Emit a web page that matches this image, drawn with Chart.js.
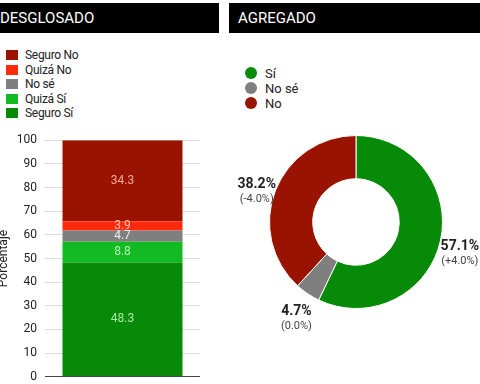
<!DOCTYPE html>
<html>
<head>
<meta charset="utf-8">
<script src="https://cdn.jsdelivr.net/npm/chart.js@4/dist/chart.umd.min.js"></script>
<style>
  body { margin: 0; width: 480px; height: 384px; background: #fff; position: relative; overflow: hidden; font-family: Roboto, sans-serif; }
  .head { position: absolute; top: 3px; height: 30px; background: #000; color: #fff; font-size: 15px; line-height: 30px; }
  #headL { left: 0; width: 219px; padding-left: 0; }
  #headR { left: 229px; width: 251px; }
  #headR span { margin-left: 9px; }
  .leg { position: absolute; font-size: 12px; color: #222; }
  .leg div { height: 14.5px; line-height: 14.5px; position: relative; padding-left: 19px; letter-spacing: -0.3px; }
  .leg i { position: absolute; left: 0; top: 2px; width: 12px; height: 10px; }
  #legR div { height: 15px; line-height: 15px; padding-left: 20px; font-size: 13px; letter-spacing: 0; }
  #legR i { width: 12px; height: 12px; top: 1px; border-radius: 50%; }
  canvas { position: absolute; }
</style>
</head>
<body>
<div class="head" id="headL">DESGLOSADO</div>
<div class="head" id="headR"><span>AGREGADO</span></div>
<div class="leg" id="legL" style="left:6px; top:48px;"></div>
<div class="leg" id="legR" style="left:245px; top:66px;"></div>
<canvas id="bar-chart" width="220" height="267" style="left:0; top:125px;"></canvas>
<canvas id="donut-chart" width="251" height="264" style="left:229px; top:120px;"></canvas>
<script>
// desglosado (bottom to top of the stack)
const barLabels = ["Seguro Sí", "Quizá Sí", "No sé", "Quizá No", "Seguro No"];
const barValues = [48.3, 8.8, 4.7, 3.9, 34.3];
const barColors = ["#078a07", "#12bb22", "#7f7f7f", "#ff2a0c", "#991300"];
const barLabelColors = ["#a8eaa8", "#b6f5b6", "#eeeeee", "#ffc4b8", "#f2aa9e"];
const yTickMin = 0, yTickMax = 100, yTickStep = 10;

// agregado
const donutLabels = ["Sí", "No sé", "No"];
const donutValues = [57.1, 4.7, 38.2];
const donutChanges = ["+4.0%", "0.0%", "-4.0%"];
const donutColors = ["#078a07", "#7f7f7f", "#991300"];

// legends
const legL = document.getElementById("legL");
for (let i = barLabels.length - 1; i >= 0; i--) {
    legL.innerHTML += '<div><i style="background:' + barColors[i] + '"></i>' + barLabels[i] + '</div>';
}
const legR = document.getElementById("legR");
donutLabels.forEach((l, i) => {
    legR.innerHTML += '<div><i style="background:' + donutColors[i] + '"></i>' + l + '</div>';
});

const barText = {
    id: "barText",
    afterDatasetsDraw(chart) {
        const ctx = chart.ctx;
        ctx.save();
        ctx.font = "12px Roboto";
        ctx.textAlign = "center";
        ctx.textBaseline = "middle";
        chart.data.datasets.forEach((ds, i) => {
            const el = chart.getDatasetMeta(i).data[0];
            const y = (el.y + el.base) / 2;
            ctx.fillStyle = barLabelColors[i];
            ctx.fillText(ds.data[0].toFixed(1), el.x, y);
        });
        ctx.restore();
    }
};

new Chart(document.getElementById("bar-chart").getContext("2d"), {
    type: "bar",
    data: {
        labels: [""],
        datasets: barLabels.map((l, i) => ({
            label: l,
            data: [barValues[i]],
            backgroundColor: barColors[i],
            borderWidth: 0,
            barPercentage: 0.774,
            categoryPercentage: 1
        }))
    },
    options: {
        responsive: false,
        animation: false,
        layout: { padding: { top: 10, right: 20, bottom: 9, left: 0 } },
        plugins: { legend: { display: false }, tooltip: { enabled: false } },
        scales: {
            x: { stacked: true, display: false },
            y: {
                stacked: true,
                min: yTickMin, max: yTickMax,
                ticks: { stepSize: yTickStep, padding: 8, color: "#222", font: { family: "Roboto", size: 12 } },
                grid: { drawTicks: false, color: c => c.tick && c.tick.value === 0 ? "#444" : "#dddddd" },
                border: { display: false },
                title: { display: true, text: "Porcentaje", color: "#222", padding: { top: -3, bottom: 0 }, font: { family: "Roboto", size: 12 } },
                afterFit(scale) { scale.width = 45; }
            }
        }
    },
    plugins: [barText]
});

const donutText = {
    id: "donutText",
    afterDraw(chart) {
        const ctx = chart.ctx;
        const meta = chart.getDatasetMeta(0);
        ctx.save();
        ctx.textAlign = "center";
        ctx.textBaseline = "middle";
        meta.data.forEach((arc, i) => {
            const mid = (arc.startAngle + arc.endAngle) / 2;
            const r = arc.outerRadius + 20;
            const x = arc.x + Math.cos(mid) * r;
            const y = arc.y + Math.sin(mid) * r;
            ctx.fillStyle = "#222";
            ctx.font = "bold 14px Roboto";
            ctx.fillText(donutValues[i].toFixed(1) + "%", x, y + 1);
            ctx.fillStyle = "#444";
            ctx.font = "11px Roboto";
            ctx.fillText("(" + donutChanges[i] + ")", x, y + 16);
        });
        ctx.restore();
    }
};

new Chart(document.getElementById("donut-chart").getContext("2d"), {
    type: "doughnut",
    data: {
        labels: donutLabels,
        datasets: [{
            data: donutValues,
            backgroundColor: donutColors,
            borderColor: "#ffffff",
            borderWidth: 1
        }]
    },
    options: {
        responsive: false,
        animation: false,
        cutout: "50%",
        layout: { padding: { left: 40, right: 37, top: 15, bottom: 75 } },
        plugins: { legend: { display: false }, tooltip: { enabled: false } }
    },
    plugins: [donutText]
});
</script>
</body>
</html>
